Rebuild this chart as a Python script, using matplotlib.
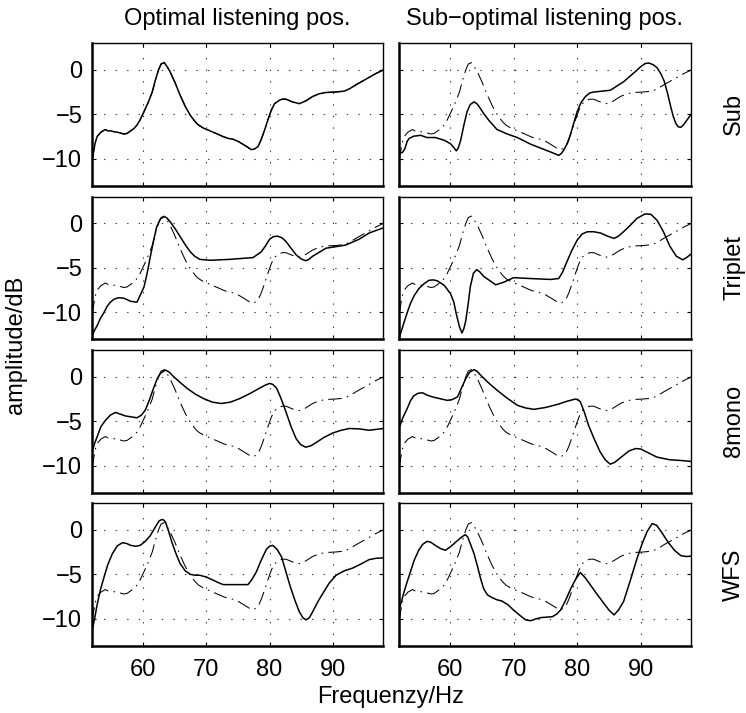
import matplotlib
matplotlib.use('Agg')
import matplotlib.pyplot as plt

# --------------------------------------------------------------------------------------------
# data: frequency in Hz, amplitude in dB

# Sub, optimal position (also the dash-dot reference in every panel)
sub_opt_f = [52.0, 52.2, 52.5, 52.8, 53.4, 54.1, 54.5, 54.9, 55.5, 56.0, 56.5, 57.0, 57.5, 58.1,
             58.6, 59.1, 59.6, 60.2, 60.9, 61.5, 62.0, 62.5, 62.9, 63.4, 63.8, 64.3, 65.1, 65.9,
             66.7, 67.5, 68.3, 68.8, 69.6, 70.6, 71.6, 72.7, 73.5, 74.3, 75.1, 75.8, 76.6, 77.1,
             77.6, 78.2, 78.7, 79.2, 79.8, 80.3, 80.8, 81.6, 82.0, 82.6, 83.6, 84.7, 85.7, 86.8,
             87.8, 88.9, 90.3, 91.8, 92.7, 93.6, 94.6, 95.6, 96.7, 98.0]
sub_opt_db = [-10.2, -9.4, -8.2, -7.5, -7.0, -6.7, -6.85, -6.85, -6.95, -7.0, -7.1, -7.2, -7.15, -6.85,
              -6.6, -6.2, -5.6, -4.7, -3.6, -2.5, -1.15, 0.0, 0.65, 0.8, 0.4, -0.2, -1.45, -2.85,
              -4.1, -5.1, -5.85, -6.2, -6.55, -6.85, -7.15, -7.5, -7.7, -7.8, -8.05, -8.35, -8.7, -8.95,
              -8.9, -8.6, -7.8, -6.8, -5.5, -4.5, -3.8, -3.4, -3.3, -3.3, -3.6, -3.8, -3.5, -3.0,
              -2.7, -2.55, -2.5, -2.4, -2.1, -1.7, -1.3, -0.9, -0.45, 0.0]

# Sub, sub-optimal position
sub_sub_f = [52.0, 52.5, 52.9, 53.3, 53.6, 54.3, 55.4, 56.4, 57.7, 59.1, 60.1, 60.6, 61.0, 61.3,
             61.7, 62.2, 62.7, 63.2, 63.8, 64.3, 64.8, 65.4, 66.1, 67.4, 69.0, 70.6, 72.7, 74.5,
             76.1, 76.6, 77.1, 77.5, 77.9, 78.5, 79.0, 79.5, 80.0, 80.6, 81.3, 82.0, 82.6, 85.2,
             87.3, 89.4, 90.0, 90.7, 91.3, 92.0, 92.6, 93.2, 93.7, 94.2, 94.7, 95.1, 95.5, 95.9,
             96.3, 96.7, 97.1, 98.0]
sub_sub_db = [-9.3, -9.3, -8.9, -8.0, -7.7, -7.45, -7.35, -7.6, -7.6, -7.9, -8.3, -8.7, -9.1, -8.8,
              -7.9, -6.2, -4.7, -3.9, -3.6, -3.85, -4.35, -5.0, -5.65, -6.7, -7.2, -7.6, -8.35, -8.85,
              -9.3, -9.45, -9.6, -9.4, -9.0, -8.2, -7.15, -5.9, -4.7, -3.7, -3.0, -2.6, -2.5, -2.3,
              -1.35, -0.05, 0.35, 0.7, 0.75, 0.55, 0.2, -0.5, -1.3, -2.6, -4.1, -5.2, -6.0, -6.4,
              -6.45, -6.2, -5.8, -4.9]

# Triplet, optimal position
tri_opt_f = [52.0, 52.4, 52.8, 53.3, 53.9, 54.4, 54.9, 55.5, 56.2, 57.0, 58.1, 59.1, 60.2, 60.7,
             61.2, 61.7, 62.2, 62.8, 63.4, 63.8, 64.3, 65.1, 65.9, 66.7, 67.5, 68.2, 69.0, 70.6,
             73.7, 77.4, 78.7, 79.4, 80.0, 80.6, 81.3, 82.0, 82.6, 83.4, 84.2, 85.0, 85.7, 86.2,
             86.8, 88.9, 92.0, 94.1, 95.7, 98.0]
tri_opt_db = [-12.6, -12.0, -11.5, -10.7, -10.0, -9.3, -8.85, -8.5, -8.35, -8.4, -8.75, -8.85, -7.15, -5.6,
              -3.75, -2.0, -0.4, 0.5, 0.75, 0.6, 0.2, -0.6, -1.5, -2.4, -3.2, -3.7, -4.05, -4.15,
              -4.05, -3.85, -3.2, -2.5, -1.8, -1.5, -1.45, -1.65, -2.05, -2.8, -3.55, -4.0, -4.2, -4.05,
              -3.7, -2.8, -2.45, -1.8, -1.1, -0.5]

# Triplet, sub-optimal position
tri_sub_f = [52.0, 52.4, 52.8, 53.3, 53.8, 54.4, 55.1, 55.9, 56.7, 57.4, 58.0, 59.1, 60.1, 60.6,
             61.0, 61.5, 61.9, 62.2, 62.5, 62.9, 63.2, 63.7, 64.2, 64.7, 65.3, 67.2, 68.5, 70.0,
             72.7, 75.8, 77.1, 77.7, 78.4, 79.2, 80.0, 80.8, 81.6, 82.6, 83.7, 84.8, 85.8, 86.5,
             87.3, 88.4, 89.4, 90.7, 91.6, 92.6, 93.6, 94.6, 95.6, 96.6, 97.3, 98.0]
tri_sub_db = [-12.9, -12.0, -11.1, -10.0, -9.0, -8.1, -7.35, -6.8, -6.4, -6.35, -6.45, -6.95, -7.9, -8.8,
              -10.15, -11.6, -12.3, -11.8, -10.9, -8.9, -7.15, -5.6, -5.2, -5.45, -5.95, -6.9, -6.6, -6.1,
              -6.2, -6.3, -6.2, -5.5, -4.3, -3.0, -1.9, -1.2, -0.95, -0.95, -1.1, -1.45, -1.7, -1.45,
              -0.95, -0.2, 0.55, 1.05, 1.0, 0.3, -1.0, -2.6, -3.7, -4.1, -3.8, -3.4]

# 8mono, optimal position
mono_opt_f = [52.0, 52.4, 52.8, 53.4, 54.1, 54.9, 55.7, 56.5, 57.3, 58.2, 59.1, 59.8, 60.4, 61.0,
              61.7, 62.3, 62.8, 63.6, 64.2, 64.9, 66.0, 67.0, 68.3, 69.6, 71.0, 72.4, 73.8, 75.3,
              77.0, 78.5, 79.3, 80.0, 80.5, 81.1, 81.8, 82.6, 83.4, 84.2, 84.9, 85.7, 86.5, 87.3,
              88.6, 90.0, 91.3, 92.6, 94.2, 95.7, 98.0]
mono_opt_db = [-8.5, -7.5, -6.75, -5.6, -4.9, -4.3, -4.0, -4.2, -4.4, -4.5, -4.6, -4.3, -3.75, -2.7,
               -1.3, -0.2, 0.4, 0.75, 0.5, 0.0, -0.7, -1.3, -1.95, -2.45, -2.85, -3.0, -2.85, -2.45,
               -1.85, -1.25, -0.95, -0.75, -0.85, -1.25, -2.4, -3.95, -5.6, -6.95, -7.6, -7.9, -7.75, -7.4,
               -6.8, -6.3, -6.0, -5.8, -5.85, -6.0, -5.8]

# 8mono, sub-optimal position
mono_sub_f = [52.0, 52.6, 53.3, 53.8, 54.3, 55.0, 55.7, 56.4, 57.2, 58.4, 59.6, 60.4, 61.2, 61.8,
              62.5, 63.1, 63.8, 64.3, 64.8, 66.1, 67.4, 69.0, 70.6, 71.9, 73.2, 75.0, 76.9, 78.4,
              79.7, 80.1, 80.5, 81.1, 81.8, 82.7, 83.6, 84.4, 85.2, 85.9, 86.6, 87.3, 88.2, 89.2,
              90.0, 90.7, 92.5, 94.5, 96.5, 98.0]
mono_sub_db = [-5.8, -4.6, -3.55, -2.7, -2.15, -1.85, -1.8, -2.05, -2.25, -2.45, -2.65, -2.55, -2.25, -1.3,
               -0.2, 0.5, 0.8, 0.6, 0.2, -0.7, -1.5, -2.4, -3.2, -3.5, -3.65, -3.45, -3.1, -2.75,
               -2.5, -2.55, -2.8, -3.9, -5.45, -7.0, -8.4, -9.3, -9.8, -9.6, -9.2, -8.8, -8.3, -8.05,
               -8.1, -8.35, -9.0, -9.3, -9.4, -9.5]

# WFS, optimal position
wfs_opt_f = [52.0, 52.4, 52.8, 53.3, 53.9, 54.5, 55.2, 56.0, 56.8, 57.5, 58.1, 58.9, 59.6, 60.4,
             61.2, 61.7, 62.2, 62.6, 63.0, 63.3, 63.6, 64.1, 64.6, 65.2, 65.9, 66.7, 67.5, 68.3,
             69.0, 70.0, 71.1, 72.0, 72.7, 74.8, 76.6, 77.2, 77.9, 78.7, 79.5, 80.0, 80.5, 81.2,
             81.9, 82.5, 83.2, 84.0, 84.7, 85.3, 85.8, 86.3, 86.8, 87.6, 88.4, 89.4, 90.5, 91.8,
             93.1, 94.4, 95.7, 96.8, 98.0]
wfs_opt_db = [-11.4, -10.0, -8.45, -6.8, -5.3, -3.9, -2.7, -1.8, -1.45, -1.55, -1.75, -1.85, -1.75, -1.3,
              -0.65, -0.05, 0.55, 1.0, 1.15, 1.1, 0.85, -0.2, -1.4, -2.6, -3.8, -4.6, -5.0, -5.1,
              -5.1, -5.3, -5.65, -5.95, -6.15, -6.15, -6.15, -5.6, -4.75, -3.4, -2.2, -1.85, -1.75, -2.2,
              -3.05, -4.5, -6.2, -7.9, -9.2, -9.9, -10.1, -9.85, -9.2, -8.1, -7.15, -6.0, -5.1, -4.6,
              -4.3, -3.85, -3.35, -3.2, -3.15]

# WFS, sub-optimal position
wfs_sub_f = [52.0, 52.4, 52.8, 53.3, 53.8, 54.4, 55.1, 55.7, 56.4, 57.0, 57.7, 58.5, 59.3, 60.1,
             60.9, 61.7, 62.4, 62.8, 63.2, 63.8, 64.3, 64.8, 65.3, 65.9, 66.6, 67.4, 68.2, 69.1,
             70.0, 71.0, 71.9, 72.7, 73.5, 74.3, 75.2, 76.1, 76.8, 77.4, 78.2, 79.0, 79.8, 80.5,
             81.3, 82.1, 83.2, 84.2, 85.0, 85.8, 86.5, 87.3, 88.4, 89.4, 90.2, 91.0, 91.8, 92.5,
             93.3, 94.3, 95.3, 96.3, 97.2, 98.0]
wfs_sub_db = [-9.0, -8.0, -6.95, -5.8, -4.7, -3.4, -2.3, -1.65, -1.3, -1.4, -1.75, -2.1, -2.3, -1.9,
              -1.4, -0.9, -0.55, -0.8, -1.55, -2.7, -4.0, -5.4, -6.6, -7.3, -7.6, -7.85, -8.0, -8.4,
              -9.0, -9.6, -10.1, -10.2, -10.0, -9.85, -9.8, -9.75, -9.45, -9.0, -7.9, -6.6, -5.5, -4.8,
              -5.4, -6.2, -7.3, -8.25, -9.0, -9.55, -9.0, -8.05, -5.6, -3.25, -1.6, -0.2, 0.7, 0.5,
              -0.3, -1.4, -2.3, -2.9, -3.0, -2.95]

rows = ['Sub', 'Triplet', '8mono', 'WFS']
cols = ['Optimal listening pos.', 'Sub\u2212optimal listening pos.']
curves = [[(sub_opt_f, sub_opt_db), (sub_sub_f, sub_sub_db)],
          [(tri_opt_f, tri_opt_db), (tri_sub_f, tri_sub_db)],
          [(mono_opt_f, mono_opt_db), (mono_sub_f, mono_sub_db)],
          [(wfs_opt_f, wfs_opt_db), (wfs_sub_f, wfs_sub_db)]]

# --------------------------------------------------------------------------------------------
# figure

plt.rcParams['font.family'] = ['Liberation Sans', 'DejaVu Sans']
plt.rcParams['font.size'] = 17

W, H = 746, 713
fig = plt.figure(figsize=(W / 100, H / 100), dpi=100)

col_x = [(92, 383), (399, 691)]
row_top = [43, 196.5, 350, 503]
row_h = 142.7

for r in range(4):
    for c in range(2):
        x0, x1 = col_x[c]
        ax = fig.add_axes([x0 / W, 1 - (row_top[r] + row_h) / H, (x1 - x0) / W, row_h / H])
        ax.plot(sub_opt_f, sub_opt_db, color='k', lw=0.75, dashes=(13, 5, 1.5, 5))
        f, db = curves[r][c]
        ax.plot(f, db, color='k', lw=1.1)
        ax.set_xlim(52, 97.9)
        ax.set_ylim(-13, 3)
        ax.set_xticks([60, 70, 80, 90])
        ax.set_yticks([-10, -5, 0])
        ax.grid(True, color='0.2', lw=0.8, linestyle=(0, (1.2, 9.2)))
        ax.tick_params(direction='in', top=True, right=True, length=3, width=0.8,
                       labelsize=17)
        ax.tick_params(axis='x', pad=9.5)
        ax.tick_params(axis='y', pad=7)
        for side in ['left', 'bottom']:
            ax.spines[side].set_linewidth(1.8)
        for side in ['top', 'right']:
            ax.spines[side].set_linewidth(1.0)
        if r < 3:
            ax.set_xticklabels([])
        if c == 1:
            ax.set_yticklabels([])
        if r == 0:
            fig.text((x0 + x1) / 2 / W, 1 - 19 / H, cols[c], ha='center', va='center')
        if c == 1:
            fig.text(734 / W, 1 - (row_top[r] + row_h / 2) / H, rows[r], rotation=90,
                     ha='center', va='center')

fig.text(16 / W, 1 - 345 / H, 'amplitude/dB', rotation=90, ha='center', va='center')
fig.text(391 / W, 1 - 697 / H, 'Frequenzy/Hz', ha='center', va='center')

fig.savefig('out.png', dpi=100)
